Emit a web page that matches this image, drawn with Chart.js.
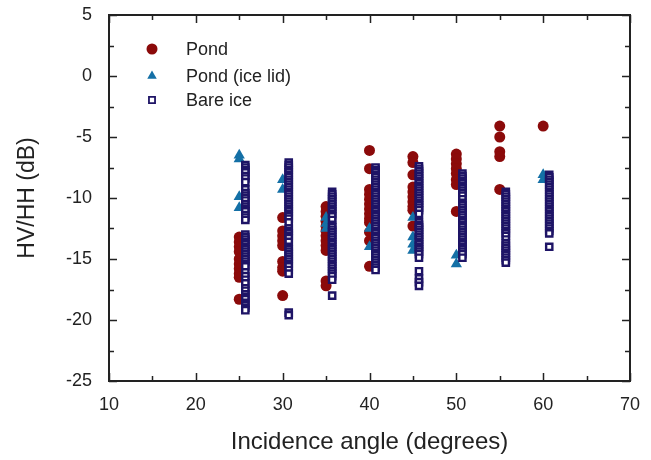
<!DOCTYPE html>
<html>
<head>
<meta charset="utf-8">
<script src="https://cdn.jsdelivr.net/npm/chart.js@4.4.1/dist/chart.umd.min.js"></script>
<style>
html, body { margin: 0; padding: 0; background: #fff; }
</style>
</head>
<body>
<canvas id="myChart" width="651" height="460"></canvas>
<script>
// angles (degrees) and HV/HH values (dB)
var pondAngles = [25, 30, 35, 40, 45, 50, 55, 60];
var pondDb = [
    [-13.2, -13.6, -14.0, -14.4, -15.0, -15.4, -15.8, -16.2, -16.5, -18.3],
    [-11.6, -12.7, -13.1, -13.5, -13.9, -15.2, -15.7, -16.0, -18.0],
    [-10.7, -11.1, -11.5, -11.9, -12.3, -12.7, -13.1, -13.5, -13.9, -14.3, -16.8, -17.2],
    [-6.1, -7.6, -9.3, -9.7, -10.1, -10.5, -10.9, -11.3, -11.7, -12.0, -12.8, -13.5, -15.6],
    [-6.6, -7.1, -8.1, -9.1, -9.5, -9.9, -10.3, -10.7, -11.0, -12.3],
    [-6.4, -6.8, -7.2, -7.6, -8.0, -8.5, -8.9, -11.1],
    [-4.1, -5.0, -6.2, -6.6, -9.3],
    [-4.1]
];

var lidAngles = [25, 30, 35, 40, 45, 50, 60];
var lidDb = [
    [-6.5, -6.8, -9.9, -10.8],
    [-8.5, -9.3],
    [-11.6, -12.1, -12.5],
    [-12.5, -14.0],
    [-11.6, -13.2, -13.8, -14.3],
    [-14.7, -15.4],
    [-8.1, -8.5]
];

var iceAngles = [25.7, 30.7, 35.7, 40.7, 45.7, 50.7, 55.7, 60.7];
var iceDb = [
    [-7.3, -7.5, -7.7, -7.9, -8.2, -8.4, -8.7,
     -9.3, -9.6, -9.8, -10.0, -10.2, -10.5, -10.7, -10.9, -11.1, -11.4, -11.6, -11.8,
     -13.0, -13.2, -13.4, -13.6, -13.8, -14.0, -14.2, -14.4, -14.6, -14.8, -15.0, -15.2, -15.4, -15.6,
     -16.1, -16.4, -16.7, -17.0,
     -17.4, -17.6, -17.9, -18.1, -18.3, -18.6, -18.8, -19.0, -19.2],
    [-7.1, -7.3, -7.5, -7.7, -7.9, -8.1, -8.3, -8.5, -8.7, -8.9, -9.1, -9.3, -9.5, -9.7, -9.9,
     -10.1, -10.3, -10.5, -10.7, -10.9, -11.1, -11.3, -11.5, -11.7, -12.0,
     -12.5, -12.7, -12.9, -13.1, -13.3, -13.6,
     -14.0, -14.2, -14.4, -14.6, -14.8, -15.0, -15.2, -15.4, -15.6, -15.9, -16.2,
     -19.4, -19.6],
    [-9.5, -9.7, -9.9, -10.1, -10.3, -10.5, -10.7, -10.9, -11.1, -11.3, -11.5, -11.8,
     -12.2, -12.4, -12.6, -12.8, -13.0, -13.2, -13.4, -13.6, -13.8, -14.0, -14.2, -14.4, -14.6,
     -14.8, -15.0, -15.2, -15.4, -15.6, -15.8, -16.0, -16.2, -16.4, -16.7,
     -18.0],
    [-7.5, -7.7, -7.9, -8.1, -8.3, -8.5, -8.7, -8.9, -9.1, -9.3, -9.5, -9.7, -9.9, -10.1, -10.3,
     -10.5, -10.7, -10.9, -11.1, -11.3, -11.5, -11.7, -11.9, -12.1, -12.3, -12.5, -12.7, -12.9,
     -13.1, -13.3, -13.5, -13.7, -13.9, -14.1, -14.3, -14.5, -14.7, -14.9, -15.1, -15.3, -15.5,
     -15.7, -15.9],
    [-7.4, -7.6, -7.8, -8.0, -8.2, -8.4, -8.6, -8.8, -9.0, -9.2, -9.4, -9.6, -9.8, -10.0, -10.2,
     -10.4, -10.6, -10.8, -11.0, -11.3,
     -12.0, -12.2, -12.4, -12.6, -12.8, -13.0, -13.2, -13.4, -13.6, -13.8, -14.0, -14.2, -14.4,
     -14.6, -14.9,
     -16.0, -16.6, -16.9, -17.2],
    [-8.0, -8.2, -8.4, -8.6, -8.8, -9.0, -9.2, -9.4, -9.6, -9.8, -10.1,
     -10.4, -10.6, -10.8, -11.0, -11.2, -11.4, -11.6, -11.8, -12.0, -12.2, -12.4, -12.6, -12.8,
     -13.0, -13.2, -13.4, -13.6, -13.8, -14.0, -14.2, -14.4, -14.6, -14.9],
    [-9.5, -9.7, -9.9, -10.1, -10.3, -10.5, -10.7, -10.9, -11.1, -11.3, -11.5, -11.7, -11.9,
     -12.1, -12.3, -12.5, -12.7, -12.9, -13.1, -13.4,
     -13.7, -13.9, -14.1, -14.3, -14.5, -14.7, -14.9, -15.1, -15.3],
    [-8.1, -8.3, -8.5, -8.7, -8.9, -9.1, -9.3, -9.5, -9.7, -9.9, -10.1, -10.3, -10.5, -10.7,
     -10.9, -11.1, -11.3, -11.5, -11.7, -11.9, -12.1, -12.3, -12.5, -12.7, -12.9,
     -14.0]
];

var seriesLabels = ['Pond', 'Pond (ice lid)', 'Bare ice'];
var xTicks = [10, 20, 30, 40, 50, 60, 70];
var yTicks = [-25, -20, -15, -10, -5, 0, 5];

var FONT = "'Liberation Sans', Arial, sans-serif";
var INK = '#222';

function toPoints(xs, ys) {
    var pts = [];
    xs.forEach(function (x, i) {
        ys[i].forEach(function (y) { pts.push({ x: x, y: y }); });
    });
    return pts;
}

// box round the plot with inward ticks on all four sides
var frameTicks = {
    id: 'frameTicks',
    afterDatasetsDraw: function (chart) {
        var ctx = chart.ctx, a = chart.chartArea;
        var xs = chart.scales.x, ys = chart.scales.y;
        ctx.save();
        ctx.strokeStyle = INK;
        ctx.lineWidth = 1.5;
        var v, p, len;
        ctx.beginPath();
        for (v = xs.min; v <= xs.max; v += 5) {
            p = Math.round(xs.getPixelForValue(v)) + 0.5;
            len = (v % 10 === 0) ? 8 : 5;
            ctx.moveTo(p, a.bottom); ctx.lineTo(p, a.bottom - len);
            ctx.moveTo(p, a.top); ctx.lineTo(p, a.top + len);
        }
        for (v = ys.min; v <= ys.max; v += 2.5) {
            p = Math.round(ys.getPixelForValue(v)) + 0.5;
            len = (v % 5 === 0) ? 8 : 5;
            ctx.moveTo(a.left, p); ctx.lineTo(a.left + len, p);
            ctx.moveTo(a.right, p); ctx.lineTo(a.right - len, p);
        }
        ctx.stroke();
        ctx.lineWidth = 2;
        ctx.strokeRect(a.left, a.top, a.right - a.left, a.bottom - a.top);
        ctx.restore();
    },
    afterDraw: function (chart) {
        // legend in the upper-left corner of the plot
        var ctx = chart.ctx, a = chart.chartArea;
        var rows = [34, 61, 85];
        ctx.save();
        ctx.font = '18px ' + FONT;
        ctx.textBaseline = 'middle';
        chart.data.datasets.forEach(function (ds, i) {
            var x = a.left + 43, y = a.top + rows[i];
            ctx.fillStyle = ds.backgroundColor;
            ctx.strokeStyle = ds.borderColor;
            ctx.lineWidth = ds.legendBorder;
            Chart.helpers.drawPoint(ctx, {
                pointStyle: ds.pointStyle,
                radius: ds.legendRadius,
                borderWidth: ds.legendBorder
            }, x, y);
            ctx.fillStyle = INK;
            ctx.fillText(ds.label, a.left + 77, y + 1);
        });
        ctx.restore();
    }
};

var ctx = document.getElementById('myChart').getContext('2d');
var chart = new Chart(ctx, {
    type: 'scatter',
    data: {
        datasets: [{
            label: seriesLabels[0],
            data: toPoints(pondAngles, pondDb),
            order: 2,
            pointStyle: 'circle',
            pointRadius: 5.5,
            legendRadius: 5.5,
            legendBorder: 0,
            backgroundColor: '#8b0a0a',
            borderColor: '#8b0a0a',
            borderWidth: 0
        }, {
            label: seriesLabels[1],
            data: toPoints(lidAngles, lidDb),
            order: 1,
            pointStyle: 'triangle',
            pointRadius: 6.5,
            legendRadius: 5.5,
            legendBorder: 0,
            backgroundColor: '#1470a6',
            borderColor: '#1470a6',
            borderWidth: 0
        }, {
            label: seriesLabels[2],
            data: toPoints(iceAngles, iceDb),
            order: 0,
            pointStyle: 'rect',
            pointRadius: 4.4,
            legendRadius: 4.3,
            legendBorder: 1.8,
            backgroundColor: '#ffffff',
            borderColor: '#1e1466',
            borderWidth: 2.4
        }]
    },
    options: {
        responsive: false,
        animation: false,
        events: [],
        layout: { padding: { left: 0, right: 21, top: 15, bottom: 0 } },
        plugins: { legend: { display: false }, tooltip: { enabled: false } },
        scales: {
            x: {
                type: 'linear',
                min: 10,
                max: 70,
                afterBuildTicks: function (s) { s.ticks = xTicks.map(function (v) { return { value: v }; }); },
                afterFit: function (s) { s.height = 79; s.paddingLeft = 0; s.paddingRight = 0; },
                grid: { display: false },
                border: { display: false },
                ticks: { color: INK, padding: 5, font: { family: FONT, size: 18 } },
                title: {
                    display: true,
                    text: 'Incidence angle (degrees)',
                    color: INK,
                    font: { family: FONT, size: 24 },
                    padding: { top: 0, bottom: 3 }
                }
            },
            y: {
                type: 'linear',
                min: -25,
                max: 5,
                afterBuildTicks: function (s) { s.ticks = yTicks.map(function (v) { return { value: v }; }); },
                afterFit: function (s) { s.width = 109; s.paddingTop = 0; s.paddingBottom = 0; },
                grid: { display: false },
                border: { display: false },
                ticks: { color: INK, padding: 9, font: { family: FONT, size: 18 } },
                title: {
                    display: true,
                    text: 'HV/HH (dB)',
                    color: INK,
                    font: { family: FONT, size: 23 },
                    padding: { top: 14, bottom: 0 }
                }
            }
        }
    },
    plugins: [frameTicks]
});
</script>
</body>
</html>
